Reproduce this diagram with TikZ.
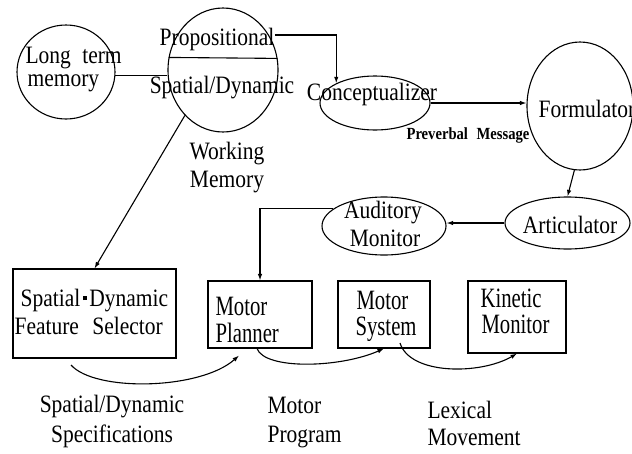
\documentclass[tikz,border=0pt]{standalone}
\usepackage{fontspec}
\setmainfont{Liberation Serif}[FakeStretch=0.86]
\newfontfamily\boxfont{Liberation Serif}[FakeStretch=0.74]
\usetikzlibrary{shapes.geometric,arrows.meta,calc}
\begin{document}
\begin{tikzpicture}[x=1pt,y=-1pt, line width=1.1pt,
  oval/.style={draw, ellipse, inner sep=0pt},
  box/.style={draw, rectangle, inner sep=0pt},
  lbl/.style={anchor=base, inner sep=0pt, font=\fontsize{25}{28}\selectfont},
  lbll/.style={anchor=base west, inner sep=0pt, font=\fontsize{25}{28}\selectfont},
  blbl/.style={anchor=base west, inner sep=0pt, font=\boxfont\fontsize{28}{32}\selectfont},
  arr/.style={-{Latex[length=6.5pt,width=4.5pt]}}]
\useasboundingbox (0,0) rectangle (632,453);

% shapes
\node[oval, minimum width=98pt, minimum height=94pt] (ltm) at (66,72) {};
\node[oval, minimum width=110pt, minimum height=124pt] (wm) at (223,70) {};
\node[oval, minimum width=110pt, minimum height=54pt] (conc) at (375,103) {};
\node[oval, minimum width=106pt, minimum height=128pt] (form) at (580,106) {};
\node[oval, minimum width=125pt, minimum height=52pt] (artic) at (567.5,223) {};
\node[oval, minimum width=124pt, minimum height=58pt] (aud) at (384,226) {};
\node[box, minimum width=163pt, minimum height=89pt] (sds) at (94.5,313.5) {};
\node[box, minimum width=104pt, minimum height=67pt] (mp) at (260,314.5) {};
\node[box, minimum width=92pt, minimum height=67pt] (ms) at (384,314.5) {};
\node[box, minimum width=98pt, minimum height=72pt] (km) at (517,317) {};

% texts
\node[lbll] (ltmA) at (25,63) {Long\hspace{6pt} term};
\node[lbll] (ltmB) at (27,86.5) {memory};
\node[lbl] (prop) at (217,45) {Propositional};
\node[lbl] (spd) at (222,93) {Spatial/Dynamic};
\node[lbl] (wmA) at (227,159) {Working};
\node[lbl] (wmB) at (227,187) {Memory};
\node[lbl] (concT) at (372,100) {Conceptualizer};
\node[lbl, font=\bfseries\fontsize{17}{20}\selectfont] (pvm) at (468,139) {Preverbal\hspace{5pt} Message};
\node[lbll] (formT) at (538,117) {Formulator};
\node[lbl] (artT) at (570,233) {Articulator};
\node[lbl] (audA) at (383,218) {Auditory};
\node[lbl] (audB) at (385,246) {Monitor};
\node[lbll] (sdsA) at (20,306) {Spatial\hspace{2.5pt}\raisebox{6pt}{\rule{4pt}{4pt}}\hspace{2.5pt}Dynamic};
\node[lbll] (sdsB) at (14,334) {Feature\hspace{8pt} Selector};
\node[blbl] (mpA) at (215,315) {Motor};
\node[blbl] (mpB) at (215,342) {Planner};
\node[blbl] (msA) at (356,309) {Motor};
\node[blbl] (msB) at (355,335) {System};
\node[blbl] (kmA) at (480,307) {Kinetic};
\node[blbl] (kmB) at (481,333) {Monitor};
\node[lbl] (b1A) at (112,412) {Spatial/Dynamic};
\node[lbl] (b1B) at (112,442) {Specifications};
\node[lbll] (b2A) at (267,413) {Motor};
\node[lbll] (b2B) at (267,442) {Program};
\node[lbll] (b3A) at (427,418) {Lexical};
\node[lbll] (b3B) at (427,445) {Movement};

% connectors
\draw (ltm.356) -- (ltm.356 -| wm.west);
\draw (wm.167.5) -- (wm.12.5);
\draw[arr] ([yshift=4pt]prop.east) -| (conc.153);
\draw[arr] (conc.east) -- (conc.east -| form.west);
\draw[arr] (form.265) -- (artic.north);
\draw[arr] (artic.west) -- (artic.west -| aud.east);
\draw[arr] (aud.161) -| (mp.north);
\draw[arr] (wm.230) -- (sds.north);
\coordinate (c1s) at (71,365);
\coordinate (c3s) at (400,343);
\draw[arr] (c1s) .. controls (95,392) and (200,390) .. ($(mp.south)+(-21,7)$);
\draw[arr] ($(mp.south)+(-3,0)$) .. controls (265,370) and (340,368) .. (ms.south);
\draw[arr] (c3s) .. controls (410,375) and (480,375) .. (km.south);
\end{tikzpicture}
\end{document}
